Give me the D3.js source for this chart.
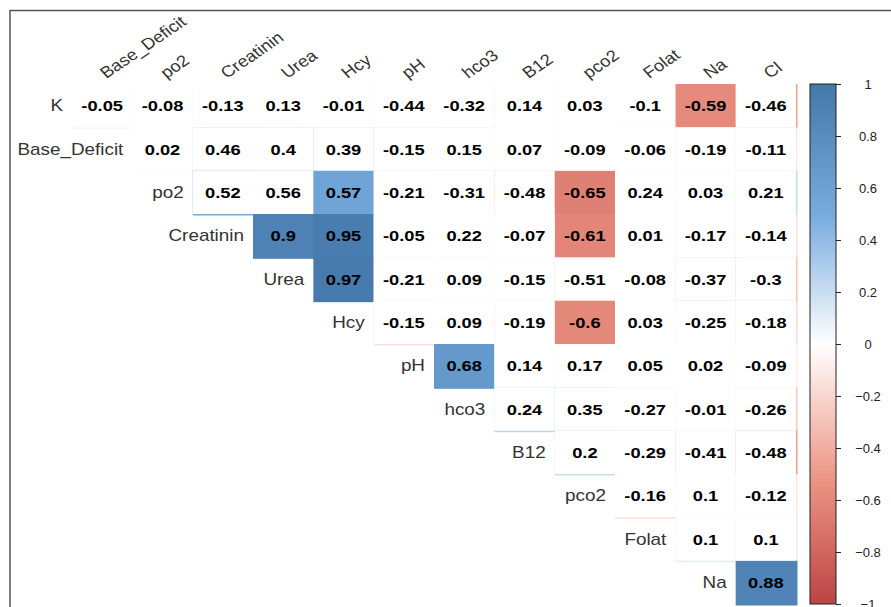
<!DOCTYPE html>
<html>
<head>
<meta charset="utf-8">
<script src="https://cdn.jsdelivr.net/npm/d3@7"></script>
<style>
  body { margin: 0; background: #fff; }
  svg { display: block; font-family: "Liberation Sans", Arial, sans-serif; }
</style>
</head>
<body>
<div id="chart"></div>
<script>
// Variables (full matrix order), row variables and column variables
const allVars = ['K', 'Base_Deficit', 'po2', 'Creatinin', 'Urea', 'Hcy', 'pH', 'hco3', 'B12', 'pco2', 'Folat', 'Na', 'Cl'];
const rowVars = allVars.slice(0, 12);
const colVars = allVars.slice(1);

// Upper triangle correlations, one array per row
const rK = [-0.05, -0.08, -0.13, 0.13, -0.01, -0.44, -0.32, 0.14, 0.03, -0.1, -0.59, -0.46];
const rBase = [0.02, 0.46, 0.4, 0.39, -0.15, 0.15, 0.07, -0.09, -0.06, -0.19, -0.11];
const rPo2 = [0.52, 0.56, 0.57, -0.21, -0.31, -0.48, -0.65, 0.24, 0.03, 0.21];
const rCreat = [0.9, 0.95, -0.05, 0.22, -0.07, -0.61, 0.01, -0.17, -0.14];
const rUrea = [0.97, -0.21, 0.09, -0.15, -0.51, -0.08, -0.37, -0.3];
const rHcy = [-0.15, 0.09, -0.19, -0.6, 0.03, -0.25, -0.18];
const rPH = [0.68, 0.14, 0.17, 0.05, 0.02, -0.09];
const rHco3 = [0.24, 0.35, -0.27, -0.01, -0.26];
const rB12 = [0.2, -0.29, -0.41, -0.48];
const rPco2 = [-0.16, 0.1, -0.12];
const rFolat = [0.1, 0.1];
const rNa = [0.88];
const rows = [rK, rBase, rPo2, rCreat, rUrea, rHcy, rPH, rHco3, rB12, rPco2, rFolat, rNa];

// Pairs that keep their colour (the others are blanked)
const significant = [
  ['K', 'Na'], ['po2', 'Hcy'], ['po2', 'pco2'], ['Creatinin', 'Urea'], ['Creatinin', 'Hcy'],
  ['Creatinin', 'pco2'], ['Urea', 'Hcy'], ['Hcy', 'pco2'], ['pH', 'hco3'], ['Na', 'Cl']
];

// Colour legend ticks
const legendTicks = [-1, -0.8, -0.6, -0.4, -0.2, 0, 0.2, 0.4, 0.6, 0.8, 1];

const W = 891, H = 607;
const sx = 1.18; // horizontal stretch of the text

const svg = d3.select('#chart').append('svg')
  .attr('width', W).attr('height', H);

// Scales
const x = d3.scaleBand().domain(allVars).range([11.67, 796]);
const y = d3.scaleBand().domain(rowVars).range([84, 604]);
const color = d3.scaleLinear()
  .domain([-1, -0.5, 0, 0.5, 1])
  .range(['#BB4444', '#EE9988', '#FFFFFF', '#77AADD', '#4477AA']);

// Flatten to cells
const cells = [];
rows.forEach((vals, i) => {
  vals.forEach((v, k) => {
    const c = colVars[i + k];
    const sig = significant.some(p => p[0] === rowVars[i] && p[1] === c);
    cells.push({ row: rowVars[i], col: c, value: v, sig });
  });
});

// Coloured squares (slightly oversized), then blanks on top for the others
svg.append('g').selectAll('rect')
  .data(cells)
  .join('rect')
  .attr('x', d => x(d.col))
  .attr('y', d => y(d.row))
  .attr('width', x.bandwidth() + 1.5)
  .attr('height', y.bandwidth() + 1.5)
  .attr('fill', d => color(d.value));

svg.append('g').selectAll('rect')
  .data(cells.filter(d => !d.sig))
  .join('rect')
  .attr('x', d => x(d.col))
  .attr('y', d => y(d.row))
  .attr('width', x.bandwidth())
  .attr('height', y.bandwidth())
  .attr('fill', '#fff');

// Coefficients
svg.append('g').selectAll('text')
  .data(cells)
  .join('text')
  .attr('transform', d => `translate(${x(d.col) + x.bandwidth() / 2},${y(d.row) + y.bandwidth() / 2}) scale(${sx},1)`)
  .attr('text-anchor', 'middle')
  .attr('dy', '0.36em')
  .attr('font-size', 15.5)
  .attr('font-weight', 'bold')
  .attr('fill', '#000')
  .text(d => String(d.value));

// Row labels on the diagonal
svg.append('g').selectAll('text')
  .data(rowVars)
  .join('text')
  .attr('transform', d => `translate(${x(d) + x.bandwidth() - 9},${y(d) + y.bandwidth() / 2}) scale(${sx},1)`)
  .attr('text-anchor', 'end')
  .attr('dy', '0.36em')
  .attr('font-size', 16)
  .attr('fill', '#333')
  .text(d => d);

// Column labels, slanted
svg.append('g').selectAll('text')
  .data(colVars)
  .join('text')
  .attr('transform', d => `translate(${x(d) + x.bandwidth() / 2 + 4},79) scale(1.15,1) rotate(-38)`)
  .attr('text-anchor', 'start')
  .attr('font-size', 16)
  .attr('fill', '#333')
  .text(d => d);

// Colour legend
const cy = d3.scaleLinear().domain([-1, 1]).range([604, 84]);
const grad = svg.append('defs').append('linearGradient')
  .attr('id', 'cbar').attr('x1', 0).attr('x2', 0).attr('y1', 1).attr('y2', 0);
d3.range(-1, 1.001, 0.1).forEach(v => {
  grad.append('stop').attr('offset', (v + 1) / 2).attr('stop-color', color(v));
});
svg.append('rect')
  .attr('x', 810).attr('y', cy(1))
  .attr('width', 26).attr('height', cy(-1) - cy(1))
  .attr('fill', 'url(#cbar)')
  .attr('stroke', '#222').attr('stroke-width', 1);

const legendAxis = svg.append('g')
  .attr('transform', 'translate(836,0)')
  .call(d3.axisRight(cy).tickValues(legendTicks).tickSize(5).tickFormat(d3.format('')));
legendAxis.select('.domain').remove();
legendAxis.selectAll('line').attr('stroke', '#222');
legendAxis.selectAll('text')
  .attr('x', 32)
  .attr('text-anchor', 'middle')
  .attr('font-family', '"Liberation Sans", Arial, sans-serif')
  .attr('font-size', 13)
  .attr('fill', '#222');

// Frame edges
svg.append('line').attr('x1', 10).attr('x2', W).attr('y1', 10.5).attr('y2', 10.5)
  .attr('stroke', '#555').attr('stroke-width', 1.5);
svg.append('line').attr('x1', 10).attr('x2', 10).attr('y1', 10).attr('y2', H)
  .attr('stroke', '#555').attr('stroke-width', 1.5);
</script>
</body>
</html>
